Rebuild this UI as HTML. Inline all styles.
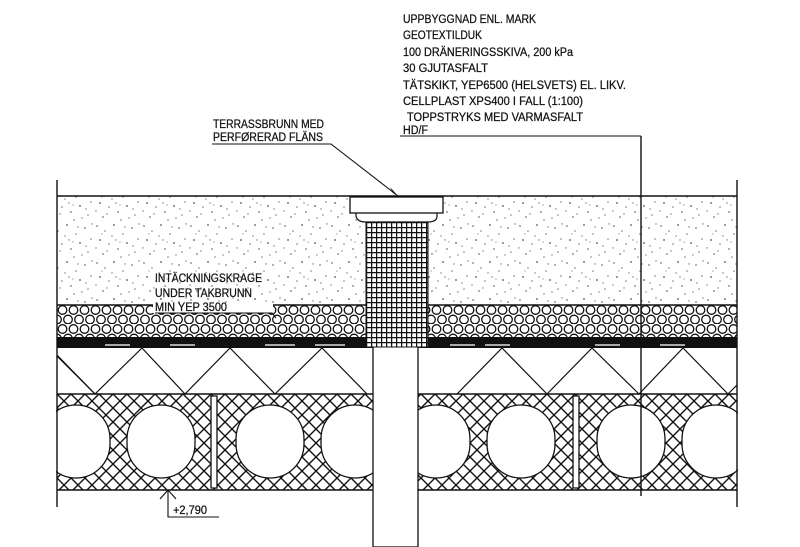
<!DOCTYPE html>
<html><head><meta charset="utf-8"><style>
html,body{margin:0;padding:0;background:#fff;}
svg{display:block;}
text{font-family:"Liberation Sans",sans-serif;font-size:11.5px;fill:#111;stroke:#111;stroke-width:0.25;}
</style></head><body>
<svg width="800" height="547" viewBox="0 0 800 547" xmlns="http://www.w3.org/2000/svg">
<defs>
<clipPath id="ins"><rect x="57" y="348" width="680" height="46"/></clipPath>
<pattern id="spk" width="47" height="37" patternUnits="userSpaceOnUse">
<rect width="47" height="37" fill="#fff"/>
<g fill="#7a7a7a">
<circle cx="3" cy="4" r="0.9"/><circle cx="11" cy="9" r="0.8"/><circle cx="20" cy="3" r="1"/><circle cx="29" cy="12" r="0.8"/><circle cx="38" cy="6" r="0.9"/><circle cx="44" cy="17" r="0.8"/>
<circle cx="6" cy="18" r="1"/><circle cx="15" cy="22" r="0.8"/><circle cx="24" cy="27" r="0.9"/><circle cx="33" cy="21" r="1"/><circle cx="41" cy="30" r="0.8"/><circle cx="9" cy="32" r="0.9"/>
<circle cx="18" cy="14" r="0.7"/><circle cx="35" cy="33" r="0.7"/><circle cx="27" cy="35" r="0.8"/><circle cx="2" cy="26" r="0.7"/><circle cx="45" cy="2" r="0.7"/><circle cx="22" cy="18" r="0.7"/>
<circle cx="13" cy="29" r="0.7"/><circle cx="31" cy="5" r="0.7"/><circle cx="39" cy="24" r="0.7"/><circle cx="8" cy="12" r="0.6"/><circle cx="26" cy="20" r="0.6"/>
</g></pattern>
<pattern id="hex" width="11" height="19" patternUnits="userSpaceOnUse" x="57" y="305">
<rect width="11" height="19" fill="#fff"/>
<g fill="none" stroke="#111" stroke-width="1.3">
<circle cx="5.5" cy="5" r="4.3"/><circle cx="0" cy="14.5" r="4.3"/><circle cx="11" cy="14.5" r="4.3"/>
</g></pattern>
<pattern id="xh" width="14" height="14" patternUnits="userSpaceOnUse" x="57" y="394">
<rect width="14" height="14" fill="#fff"/>
<path d="M0 0L14 14M14 0L0 14" stroke="#111" stroke-width="1.4"/>
</pattern>
<pattern id="mesh" width="5" height="5" patternUnits="userSpaceOnUse" x="366" y="222">
<rect width="5" height="5" fill="#fff"/>
<path d="M0 0.6H5M0.6 0V5" stroke="#111" stroke-width="1.3"/>
</pattern>
</defs>

<rect x="57" y="196" width="680" height="109" fill="url(#spk)"/>
<rect x="57" y="305" width="680" height="32" fill="url(#hex)"/>
<rect x="57" y="337" width="680" height="11" fill="#111"/>
<g stroke="#aaa" stroke-width="2">
<path d="M105 345H130M170 345H195M265 345H295M315 345H345M450 345H475M485 345H510M595 345H620M660 345H685"/>
</g>
<rect x="57" y="348" width="680" height="46" fill="#fff"/>
<g stroke="#111" stroke-width="1.2" fill="none" clip-path="url(#ins)">
<path d="M50 348L95 394L142 348L185 394L230 348L275 394L322 348L367 394M457 394L502 348L547 394L592 348L639 394L683 348L728 394L774 348"/>
<path d="M49 348L95 394"/>
</g>
<rect x="57" y="394" width="680" height="96" fill="url(#xh)"/>
<g fill="#fff" stroke="#111" stroke-width="1.3">
<rect x="42" y="405" width="68" height="73" rx="34" ry="34"/>
<rect x="127" y="405" width="68" height="73" rx="34" ry="34"/>
<rect x="236" y="405" width="68" height="73" rx="34" ry="34"/>
<rect x="321" y="405" width="68" height="73" rx="34" ry="34"/>
<rect x="402" y="405" width="68" height="73" rx="34" ry="34"/>
<rect x="487" y="405" width="68" height="73" rx="34" ry="34"/>
<rect x="597" y="405" width="68" height="73" rx="34" ry="34"/>
<rect x="682" y="405" width="68" height="73" rx="34" ry="34"/>
<path d="M211 396V488H217V396Z"/>
<path d="M573 396V488H579V396Z"/>
</g>
<rect x="0" y="394" width="56" height="100" fill="#fff"/>
<rect x="738" y="394" width="62" height="100" fill="#fff"/>
<g stroke="#111" stroke-width="1.4">
<path d="M57 196H737M57 305H737M57 394H737M57 490H737"/>
<path d="M57 180V507M737 180V507"/>
<path d="M641 136V496"/>
</g>
<rect x="373" y="337" width="45" height="210" fill="#fff" stroke="#111" stroke-width="1.3"/>
<rect x="366" y="222" width="62" height="125" fill="url(#mesh)" stroke="#111"/>
<path d="M356 213V216Q357 222 366 222H428Q437 222 437 216V213" fill="#fff" stroke="#111" stroke-width="1.2"/>
<rect x="350" y="197" width="93" height="16" fill="#fff" stroke="#111" stroke-width="1.3"/>
<rect x="153" y="303" width="120" height="10" fill="#fff"/>
<g stroke="#111" stroke-width="1.1" fill="none">
<path d="M212 144H331L398 196"/>
<path d="M400 136H641"/>
<path d="M155 313H272L276 318"/>
<path d="M168 490V517H219M160 499L168 490L176 499"/>
</g>
<path d="M398 196L390 187L393 193Z" fill="#111"/>
<text x="403" y="23" textLength="133" lengthAdjust="spacingAndGlyphs">UPPBYGGNAD ENL. MARK</text>
<text x="403" y="39" textLength="79" lengthAdjust="spacingAndGlyphs">GEOTEXTILDUK</text>
<text x="403" y="56" textLength="170" lengthAdjust="spacingAndGlyphs">100 DRÄNERINGSSKIVA, 200 kPa</text>
<text x="403" y="72" textLength="85" lengthAdjust="spacingAndGlyphs">30 GJUTASFALT</text>
<text x="403" y="89" textLength="223" lengthAdjust="spacingAndGlyphs">TÄTSKIKT, YEP6500 (HELSVETS) EL. LIKV.</text>
<text x="403" y="105" textLength="180" lengthAdjust="spacingAndGlyphs">CELLPLAST XPS400 I FALL (1:100)</text>
<text x="407" y="121" textLength="176" lengthAdjust="spacingAndGlyphs">TOPPSTRYKS MED VARMASFALT</text>
<text x="403" y="134" textLength="25" lengthAdjust="spacingAndGlyphs">HD/F</text>
<text x="213" y="128" textLength="111" lengthAdjust="spacingAndGlyphs">TERRASSBRUNN MED</text>
<text x="213" y="141" textLength="110" lengthAdjust="spacingAndGlyphs">PERFØRERAD FLÄNS</text>
<text x="155" y="282" textLength="107" lengthAdjust="spacingAndGlyphs">INTÄCKNINGSKRAGE</text>
<text x="155" y="297" textLength="97" lengthAdjust="spacingAndGlyphs">UNDER TAKBRUNN</text>
<text x="155" y="311" textLength="72" lengthAdjust="spacingAndGlyphs">MIN YEP 3500</text>
<text x="173" y="514" textLength="34" lengthAdjust="spacingAndGlyphs">+2,790</text>
</svg>
</body></html>
